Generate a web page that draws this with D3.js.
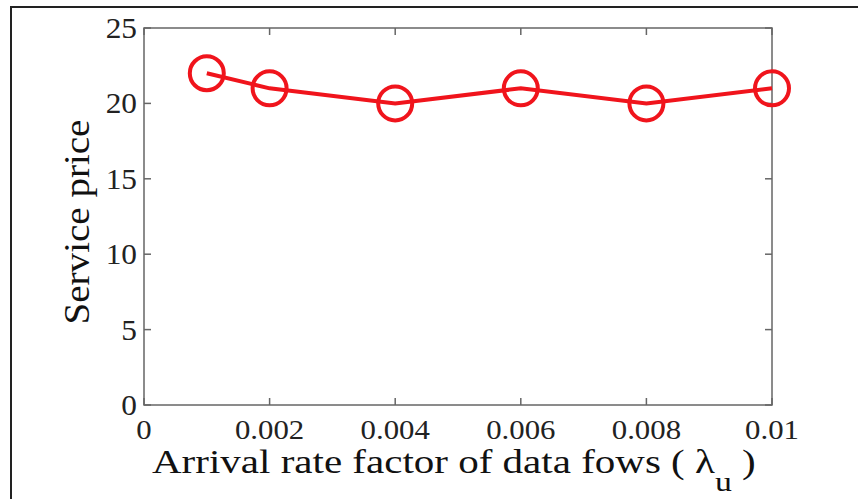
<!DOCTYPE html>
<html>
<head>
<meta charset="utf-8">
<script src="https://cdn.jsdelivr.net/npm/d3@7"></script>
<style>
  body { margin: 0; background: #fff; }
  svg { display: block; font-family: "Liberation Serif", "Times New Roman", serif; }
</style>
</head>
<body>
<svg id="chart" width="858" height="499"></svg>
<script>
const rates = [0.001, 0.002, 0.004, 0.006, 0.008, 0.01];
const prices = [22, 21, 20, 21, 20, 21];
const xTicks = [0, 0.002, 0.004, 0.006, 0.008, 0.01];
const xTickLabels = ["0", "0.002", "0.004", "0.006", "0.008", "0.01"];
const yTicks = [0, 5, 10, 15, 20, 25];

const margin = {top: 28, right: 86, bottom: 94, left: 144};
const width = 858, height = 499;
const red = "#f0141c";
const axisColor = "#666";
const tickLen = 7;

const svg = d3.select("#chart");

// outer frame
svg.append("rect")
  .attr("x", 11).attr("y", 7)
  .attr("width", 900).attr("height", 600)
  .attr("fill", "none")
  .attr("stroke", "#222")
  .attr("stroke-width", 2);

const x = d3.scaleLinear().domain([0, 0.01]).range([margin.left, width - margin.right]);
const y = d3.scaleLinear().domain([0, 25]).range([height - margin.bottom, margin.top]);

// plot box
svg.append("rect")
  .attr("x", x(0)).attr("y", y(25))
  .attr("width", x(0.01) - x(0)).attr("height", y(0) - y(25))
  .attr("fill", "#fff")
  .attr("stroke", axisColor)
  .attr("stroke-width", 1.5);

// inward ticks on all four sides
let g = svg.append("g").attr("stroke", axisColor).attr("stroke-width", 1.5);
xTicks.forEach(t => {
  g.append("line").attr("x1", x(t)).attr("x2", x(t)).attr("y1", y(0)).attr("y2", y(0) - tickLen);
  g.append("line").attr("x1", x(t)).attr("x2", x(t)).attr("y1", y(25)).attr("y2", y(25) + tickLen);
});
yTicks.forEach(t => {
  g.append("line").attr("x1", x(0)).attr("x2", x(0) + tickLen).attr("y1", y(t)).attr("y2", y(t));
  g.append("line").attr("x1", x(0.01)).attr("x2", x(0.01) - tickLen).attr("y1", y(t)).attr("y2", y(t));
});

// tick labels
svg.append("g").selectAll("text")
  .data(xTicks).enter()
  .append("text")
  .attr("transform", d => `translate(${x(d)}, ${y(0) + 34}) scale(1.1, 1)`)
  .attr("text-anchor", "middle")
  .attr("font-size", 28)
  .attr("fill", "#222")
  .text((d, i) => xTickLabels[i]);

svg.append("g").selectAll("text")
  .data(yTicks).enter()
  .append("text")
  .attr("transform", d => `translate(${x(0) - 7}, ${y(d) + 10}) scale(1.08, 1)`)
  .attr("text-anchor", "end")
  .attr("font-size", 29)
  .attr("fill", "#222")
  .text(d => d);

// line + markers
const line = d3.line().x((d, i) => x(rates[i])).y(d => y(d));
svg.append("path")
  .datum(prices)
  .attr("d", line)
  .attr("fill", "none")
  .attr("stroke", red)
  .attr("stroke-width", 4);

svg.append("g").selectAll("circle")
  .data(prices).enter()
  .append("circle")
  .attr("cx", (d, i) => x(rates[i]))
  .attr("cy", d => y(d))
  .attr("r", 17)
  .attr("fill", "none")
  .attr("stroke", red)
  .attr("stroke-width", 4);

// axis titles, stretched horizontally like the source figure
const xLabelG = svg.append("g");
const xLabel = xLabelG.append("text")
  .attr("font-size", 34)
  .attr("fill", "#111");
xLabel.append("tspan").text("Arrival rate factor of data fows ( λ");
xLabel.append("tspan").attr("dy", 18).attr("font-size", 28).text("u");
xLabel.append("tspan").attr("dy", -18).text(" )");
const xw = xLabel.node().getBBox().width;
xLabelG.attr("transform", `translate(152, 473) scale(${604 / xw}, 1)`);

const yLabelG = svg.append("g");
const yLabel = yLabelG.append("text")
  .attr("text-anchor", "middle")
  .attr("font-size", 36)
  .attr("fill", "#111")
  .text("Service price");
const yw = yLabel.node().getBBox().width;
yLabelG.attr("transform", `translate(89, 222) rotate(-90) scale(${205 / yw}, 1)`);
</script>
</body>
</html>
